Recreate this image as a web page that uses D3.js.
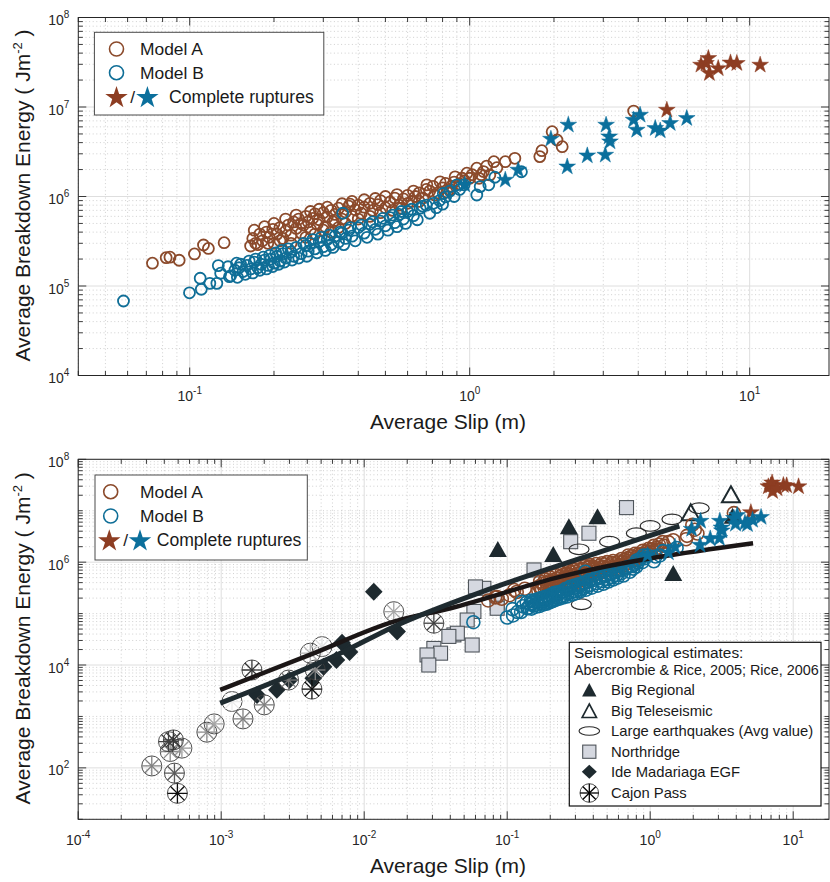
<!DOCTYPE html>
<html><head><meta charset="utf-8">
<script src="https://cdn.jsdelivr.net/npm/d3@7/dist/d3.min.js"></script>
<style>
html,body{margin:0;padding:0;background:#fff;}
svg{display:block;font-family:"Liberation Sans",Arial,Helvetica,sans-serif;}
text{white-space:pre;}
</style></head><body>
<svg id="chart" width="830" height="882"></svg>
<script>
// ================= DATA =================
// [average slip (m), average breakdown energy (J/m^2)]
const modelA = [
[0.0736,1.8e5],[0.0824,2.07e5],[0.085,2.1e5],[0.0917,1.94e5],[0.104,2.28e5],[0.112,2.87e5],[0.1166,2.63e5],[0.1327,3.05e5],
[0.165,2.8e5],[0.168,3.4e5],[0.172,3.0e5],[0.178,3.8e5],[0.182,3.2e5],[0.188,4.0e5],[0.192,3.5e5],[0.198,4.3e5],[0.2,3.0e5],[0.205,3.8e5],
[0.21,4.5e5],[0.215,3.4e5],[0.22,4.1e5],[0.225,4.8e5],[0.23,3.7e5],[0.235,5.2e5],[0.24,4.4e5],[0.245,5.6e5],[0.25,3.9e5],[0.255,4.8e5],
[0.26,6.0e5],[0.265,5.2e5],[0.27,4.3e5],[0.275,5.7e5],[0.28,6.4e5],[0.285,4.9e5],[0.29,5.5e5],[0.3,6.6e5],[0.305,4.6e5],[0.31,5.9e5],
[0.32,7.0e5],[0.325,5.2e5],[0.33,6.3e5],[0.34,7.4e5],[0.35,5.6e5],[0.36,6.7e5],[0.37,7.8e5],[0.374,8.2e5],[0.38,6.0e5],[0.39,7.1e5],
[0.4,8.0e5],[0.41,6.5e5],[0.42,7.6e5],[0.44,8.4e5],[0.45,7.0e5],[0.47,8.1e5],[0.48,9.0e5],[0.5,7.5e5],[0.52,8.7e5],[0.54,9.6e5],
[0.56,8.0e5],[0.58,9.4e5],[0.6,1.03e6],[0.62,8.8e5],[0.64,1.0e6],[0.66,1.1e6],[0.68,9.6e5],[0.703,1.35e6],[0.72,1.15e6],[0.75,1.04e6],
[0.784,1.46e6],[0.8,1.25e6],[0.83,1.12e6],[0.86,1.3e6],[0.887,1.66e6],[0.92,1.38e6],[0.96,1.5e6],[0.977,1.82e6],[1.0,1.6e6],[1.06,2.07e6],
[1.1,1.75e6],[1.15,2.19e6],[1.18,1.74e6],[1.22,2.45e6],[1.34,2.45e6],[1.45,2.67e6],[1.78,2.79e6],[1.81,3.25e6],[1.97,5.3e6],[2.05,4.28e6],
[2.14,3.6e6],[3.85,9.0e6],
[0.17,4.2e5],[0.175,2.9e5],[0.185,4.6e5],[0.19,3.0e5],[0.2,5.0e5],[0.21,3.2e5],[0.22,5.6e5],[0.23,3.0e5],[0.24,6.2e5],[0.25,5.0e5],
[0.26,3.5e5],[0.27,6.8e5],[0.28,3.8e5],[0.29,7.2e5],[0.3,4.2e5],[0.31,7.6e5],[0.32,4.0e5],[0.33,5.4e5],[0.34,4.5e5],[0.35,8.3e5],
[0.36,5.0e5],[0.38,8.8e5],[0.4,5.6e5],[0.42,9.2e5],[0.44,6.0e5],[0.46,9.5e5],[0.48,6.6e5],[0.5,1.0e6],[0.53,7.0e5],[0.55,1.05e6],
[0.57,7.4e5],[0.6,8.4e5],[0.63,1.15e6],[0.66,8.8e5],[0.7,1.2e6],[0.74,1.3e6],[0.77,1.1e6],[0.82,1.4e6],[0.85,1.2e6],[0.88,1.45e6],
[0.94,1.6e6],[1.02,1.75e6],[1.08,1.6e6],[1.12,1.9e6],[1.25,2.1e6]
];
const modelB = [
[0.058,6.8e4],[0.0998,8.4e4],[0.11,9.2e4],[0.109,1.22e5],[0.118,1.07e5],[0.125,1.07e5],[0.1265,1.69e5],[0.129,1.39e5],[0.137,1.64e5],
[0.1386,1.27e5],[0.147,1.8e5],[0.145,1.5e5],[0.15,1.6e5],[0.155,1.45e5],[0.16,1.7e5],[0.165,1.55e5],[0.17,1.85e5],[0.175,1.6e5],
[0.18,1.75e5],[0.185,1.95e5],[0.19,1.7e5],[0.195,2.0e5],[0.2,1.8e5],[0.205,2.15e5],[0.21,1.9e5],[0.215,2.3e5],[0.22,2.05e5],[0.23,2.4e5],
[0.235,2.15e5],[0.24,2.7e5],[0.25,2.3e5],[0.26,2.85e5],[0.265,2.45e5],[0.27,3.0e5],[0.28,2.6e5],[0.29,3.15e5],[0.3,2.75e5],[0.31,3.3e5],
[0.32,2.9e5],[0.33,3.6e5],[0.34,3.1e5],[0.35,3.9e5],[0.352,6.5e5],[0.36,3.4e5],[0.37,4.2e5],[0.38,3.6e5],[0.4,4.5e5],[0.42,3.9e5],
[0.44,4.9e5],[0.46,4.3e5],[0.48,5.3e5],[0.5,4.7e5],[0.52,5.8e5],[0.54,5.1e5],[0.56,6.3e5],[0.58,5.6e5],[0.6,6.8e5],[0.63,6.1e5],
[0.665,7.4e5],[0.7,8.0e5],[0.742,8.4e5],[0.76,7.5e5],[0.78,9.0e5],[0.805,1.08e6],[0.82,9.9e5],[0.85,1.15e6],[0.9,1.35e6],[0.955,1.35e6],
[1.06,1.04e6],[1.09,1.29e6],[1.17,1.35e6],[1.23,1.64e6],[1.53,1.89e6],
[0.14,1.3e5],[0.148,1.25e5],[0.152,1.75e5],[0.158,1.35e5],[0.163,1.9e5],[0.168,1.4e5],[0.172,2.0e5],[0.178,1.5e5],[0.183,2.1e5],
[0.188,1.55e5],[0.193,2.2e5],[0.198,1.65e5],[0.203,2.35e5],[0.208,1.75e5],[0.213,2.5e5],[0.218,1.85e5],[0.225,2.6e5],[0.232,1.95e5],
[0.245,2.05e5],[0.255,3.0e5],[0.262,2.15e5],[0.275,3.3e5],[0.285,2.35e5],[0.295,3.5e5],[0.305,2.5e5],[0.315,3.7e5],[0.325,2.7e5],
[0.345,4.0e5],[0.355,2.9e5],[0.375,4.5e5],[0.39,3.2e5],[0.41,4.8e5],[0.43,3.5e5],[0.45,5.2e5],[0.47,3.8e5],[0.49,5.7e5],[0.51,4.2e5],
[0.53,6.2e5],[0.55,4.6e5],[0.57,6.8e5],[0.59,5.0e5],[0.62,7.2e5],[0.65,5.5e5],[0.68,7.8e5],[0.72,6.5e5],[0.8,8.2e5],[0.88,1.0e6],[0.92,1.2e6]
];
const rupturesA = [[5.06,9.25e6],[6.7,2.95e7],[6.98,3.08e7],[7.12,3.5e7],[7.18,2.38e7],[7.72,2.7e7],[8.54,3.12e7],[9.0,3.08e7],[10.9,2.95e7]];
const rupturesB = [[0.96,1.35e6],[1.34,1.53e6],[1.49,1.98e6],[1.95,4.39e6],[2.23,2.15e6],[2.25,6.3e6],[2.63,2.86e6],[3.05,2.91e6],[3.07,6.3e6],
[3.15,4.66e6],[3.17,4.1e6],[3.85,7.16e6],[3.95,5.53e6],[4.06,8.14e6],[4.6,5.78e6],[4.79,5.43e6],[5.2,6.58e6],[5.96,7.48e6]];

// Seismological estimates (Abercrombie & Rice, 2005; Rice, 2006)
const bigRegional = [[0.086,1.73e6],[0.21,1.38e6],[0.27,4.77e6],[0.428,7.46e6],[1.45,5.9e5],[3.77,7.6e6]];
const bigTeleseismic = [[1.92,8.9e6],[3.67,2.0e7]];
const largeEarthquakes = [[0.318,1.78e6],[0.33,1.52e5],[0.52,2.5e6],[0.8,3.65e6],[1.0,5.06e6],[1.42,6.8e6],[2.2,1.12e7]];
const northridge = [[0.683,1.15e7],[0.373,3.65e6],[0.278,2.5e6],[0.154,7.05e5],[0.0687,3.1e5],[0.06,3.3e5],[0.0851,1.6e5],[0.0851,1.27e5],
[0.0585,1.1e5],[0.0525,7.5e4],[0.0424,3.85e4],[0.0448,4.15e4],[0.0391,3.6e4],[0.0569,2.45e4],[0.0307,2.1e4],[0.0342,1.7e4],[0.0275,1.57e4],[0.0283,1.0e4]];
const ideMadariaga = [[0.01167,2.67e5],[0.017,4.46e4],[0.0070,2.7e4],[0.0079,1.8e4],[0.0064,1.25e4],[0.0052,9.3e3],[0.0044,5.5e3],[0.0030,5.1e3],[0.00245,3.3e3],[0.00178,2.6e3]];
const cajonPass = [[3.27e-4,109],[4.71e-4,79],[4.94e-4,32],[4.4e-4,208],[5.31e-4,242],[4.63e-4,350],[4.28e-4,324],[7.94e-4,494],[8.93e-4,716],
[1.42e-3,896],[2.0e-3,1680],[1.19e-3,1950],[1.64e-3,8000],[2.96e-3,5100],[4.31e-3,3400],[4.55e-3,8000],[4.2e-3,1.7e4],[5.07e-3,2.28e4],[0.0307,6.5e4],[0.0161,1.09e5]];
const cajonTone = [0.5,0.65,0.95,0.45,0.4,0.8,0.75,0.45,0.35,0.5,0.5,0.08,0.8,0.55,0.95,0.5,0.3,0.12,0.75,0.35];

// fitted curves
const fitCurveF = [[9.84e-4,3.28e3],[4.42e-3,1.69e4],[0.0161,6.98e4],[0.0402,1.27e5],[0.2366,5.23e5],[5.24,2.33e6]];
const fitCurveS = [[9.84e-4,1.81e3],[6.81e-3,1.69e4],[0.0161,5.57e4],[0.0726,2.88e5],[0.2366,8.83e5],[1.125,3.65e6],[1.6,5.0e6]];

// axis ticks
const topXMajor = [0.1,1,10];
const topYMajor = [1e4,1e5,1e6,1e7,1e8];
const botXMajor = [1e-4,1e-3,1e-2,1e-1,1,10];
const botYMajor = [1e2,1e4,1e6,1e8];

// ================= DRAW =================
const svg = d3.select("#chart");
const defs = svg.append("defs");
const COL = {A:"#8b4a2b", B:"#0f6e97", starA:"#8d3d22", starB:"#0b6f9c", axis:"#262626", dark:"#1e2a2f"};
const isIn = (v, list) => list.some(m => Math.abs(Math.log10(v) - Math.log10(m)) < 1e-6);

function panel(id, box, xDomain, yDomain, xMajor, yMajor) {
  const x = d3.scaleLog().domain(xDomain).range([box.left, box.right]);
  const y = d3.scaleLog().domain(yDomain).range([box.bottom, box.top]);
  const g = svg.append("g");
  const xt = x.ticks(), yt = y.ticks();
  const xMin = xt.filter(v => !isIn(v, xMajor)), yMin = yt.filter(v => !isIn(v, yMajor));
  g.append("g").selectAll("line").data(xMin).join("line")
    .attr("x1", d => x(d)).attr("x2", d => x(d)).attr("y1", box.top).attr("y2", box.bottom)
    .attr("stroke", "#c4c4c4").attr("stroke-width", 0.8).attr("stroke-dasharray", "1,2.6");
  g.append("g").selectAll("line").data(yMin).join("line")
    .attr("y1", d => y(d)).attr("y2", d => y(d)).attr("x1", box.left).attr("x2", box.right)
    .attr("stroke", "#c4c4c4").attr("stroke-width", 0.8).attr("stroke-dasharray", "1,2.6");
  g.append("g").selectAll("line").data(xMajor).join("line")
    .attr("x1", d => x(d)).attr("x2", d => x(d)).attr("y1", box.top).attr("y2", box.bottom)
    .attr("stroke", "#dedede").attr("stroke-width", 1);
  g.append("g").selectAll("line").data(yMajor).join("line")
    .attr("y1", d => y(d)).attr("y2", d => y(d)).attr("x1", box.left).attr("x2", box.right)
    .attr("stroke", "#dedede").attr("stroke-width", 1);
  defs.append("clipPath").attr("id", "clip" + id).append("rect")
    .attr("x", box.left).attr("y", box.top).attr("width", box.right - box.left).attr("height", box.bottom - box.top);
  const data = svg.append("g").attr("clip-path", `url(#clip${id})`);
  const axes = svg.append("g");
  return {x, y, data, axes, box, xt, yt, xMajor, yMajor};
}

function finishAxes(p, xLabels, yLabels) {
  const {x, y, axes, box} = p;
  const tk = axes.append("g").attr("stroke", COL.axis).attr("stroke-width", 0.9);
  p.xt.forEach(v => {
    const L = isIn(v, p.xMajor) ? 8 : 4.5, X = x(v);
    tk.append("line").attr("x1", X).attr("x2", X).attr("y1", box.bottom).attr("y2", box.bottom - L);
    tk.append("line").attr("x1", X).attr("x2", X).attr("y1", box.top).attr("y2", box.top + L);
  });
  p.yt.forEach(v => {
    const L = isIn(v, p.yMajor) ? 8 : 4.5, Y = y(v);
    tk.append("line").attr("y1", Y).attr("y2", Y).attr("x1", box.left).attr("x2", box.left + L);
    tk.append("line").attr("y1", Y).attr("y2", Y).attr("x1", box.right).attr("x2", box.right - L);
  });
  axes.append("rect").attr("x", box.left).attr("y", box.top)
    .attr("width", box.right - box.left).attr("height", box.bottom - box.top)
    .attr("fill", "none").attr("stroke", COL.axis).attr("stroke-width", 1);
  xLabels.forEach(v => {
    const t = axes.append("text").attr("x", x(v)).attr("y", box.bottom + 25.5)
      .attr("text-anchor", "middle").attr("fill", COL.axis).attr("font-size", 14);
    t.append("tspan").text("10");
    t.append("tspan").attr("dy", -7).attr("font-size", 10).text(String(Math.round(Math.log10(v))));
  });
  yLabels.forEach(v => {
    const t = axes.append("text").attr("x", box.left - 9).attr("y", y(v) + 7.5)
      .attr("text-anchor", "end").attr("fill", COL.axis).attr("font-size", 14);
    t.append("tspan").text("10");
    t.append("tspan").attr("dy", -7).attr("font-size", 10).text(String(Math.round(Math.log10(v))));
  });
  axes.append("text").attr("x", 448).attr("y", box.bottom + 53.5).attr("text-anchor", "middle")
    .attr("font-size", 21).attr("fill", "#1a1a1a").text("Average Slip (m)");
  const cy = (box.top + box.bottom) / 2 - 1;
  const yt = axes.append("text").attr("transform", `translate(30,${cy}) rotate(-90)`)
    .attr("text-anchor", "middle").attr("font-size", 21).attr("fill", "#1a1a1a");
  yt.append("tspan").text("Average Breakdown Energy ( Jm");
  yt.append("tspan").attr("dy", -8).attr("font-size", 13).text("-2");
  yt.append("tspan").attr("dy", 8).text(" )");
}

const starPath = R => d3.symbol(d3.symbolStar, R * R / 0.8908130915292852)();
function drawCircles(g, arr, p, r, color, sw) {
  g.append("g").selectAll("circle").data(arr).join("circle")
    .attr("cx", d => p.x(d[0])).attr("cy", d => p.y(d[1])).attr("r", r)
    .attr("fill", "none").attr("stroke", color).attr("stroke-width", sw);
}
function drawStars(g, arr, p, R, color) {
  g.append("g").selectAll("path").data(arr).join("path")
    .attr("transform", d => `translate(${p.x(d[0])},${p.y(d[1])})`)
    .attr("d", starPath(R)).attr("fill", color).attr("stroke", color).attr("stroke-width", 0.5);
}
const triPath = "M0,-9L9,7L-9,7Z";
const diaPath = "M0,-9L8.8,0L0,9L-8.8,0Z";
function cajonMarker(sel, r, tone) {
  sel.append("circle").attr("r", r).attr("fill", "none").attr("stroke", "#3a3a3a").attr("stroke-width", 0.9);
  const c = d3.interpolateRgb("#ffffff", "#000000")(tone);
  [0, 45, 90, 135].forEach(a => {
    const rad = a * Math.PI / 180, dx = Math.cos(rad) * r, dy = Math.sin(rad) * r;
    sel.append("line").attr("x1", -dx).attr("y1", -dy).attr("x2", dx).attr("y2", dy)
      .attr("stroke", c).attr("stroke-width", 1.3);
  });
}

function modelLegend(lx, ly, w, h, circX, textX, rowY, starX1, slashX, starX2, ruptX) {
  const lg = svg.append("g");
  lg.append("rect").attr("x", lx).attr("y", ly).attr("width", w).attr("height", h)
    .attr("fill", "#fff").attr("stroke", "#4a4a4a").attr("stroke-width", 1);
  lg.append("circle").attr("cx", circX).attr("cy", rowY[0]).attr("r", 7).attr("fill", "none").attr("stroke", COL.A).attr("stroke-width", 1.6);
  lg.append("circle").attr("cx", circX).attr("cy", rowY[1]).attr("r", 7).attr("fill", "none").attr("stroke", COL.B).attr("stroke-width", 1.6);
  lg.append("text").attr("x", textX).attr("y", rowY[0] + 6.2).attr("font-size", 17.4).attr("fill", "#1a1a1a").text("Model A");
  lg.append("text").attr("x", textX).attr("y", rowY[1] + 6.2).attr("font-size", 17.4).attr("fill", "#1a1a1a").text("Model B");
  lg.append("path").attr("transform", `translate(${starX1},${rowY[2] + 1})`).attr("d", starPath(11.8)).attr("fill", COL.starA);
  lg.append("text").attr("x", slashX).attr("y", rowY[2] + 6.2).attr("text-anchor", "middle").attr("font-size", 17.4).attr("fill", "#1a1a1a").text("/");
  lg.append("path").attr("transform", `translate(${starX2},${rowY[2] + 1})`).attr("d", starPath(11.8)).attr("fill", COL.starB);
  lg.append("text").attr("x", ruptX).attr("y", rowY[2] + 6.2).attr("font-size", 17.6).attr("fill", "#1a1a1a").text("Complete ruptures");
}

// ---------- TOP PANEL ----------
const P1 = panel("top", {left: 78.3, right: 829, top: 17.5, bottom: 375.5}, [0.04, 19.2], [1e4, 1e8], topXMajor, topYMajor);
drawCircles(P1.data, modelA, P1, 5.5, COL.A, 1.8);
drawCircles(P1.data, modelB, P1, 5.5, COL.B, 1.8);
drawStars(P1.data, rupturesA, P1, 8.8, COL.starA);
drawStars(P1.data, rupturesB, P1, 8.8, COL.starB);
finishAxes(P1, topXMajor, topYMajor);
modelLegend(94.4, 32.3, 229.4, 82.7, 116.5, 140, [49, 72.7, 96.7], 116.5, 132.7, 147.4, 169);

// ---------- BOTTOM PANEL ----------
const P2 = panel("bot", {left: 78.2, right: 829, top: 459.3, bottom: 819.3}, [1e-4, 17.8], [10, 1e8], botXMajor, botYMajor);
const D = P2.data;
D.append("g").selectAll("rect").data(northridge).join("rect")
  .attr("x", d => P2.x(d[0]) - 7).attr("y", d => P2.y(d[1]) - 7).attr("width", 14).attr("height", 14)
  .attr("fill", "#d5d8e0").attr("stroke", "#4f555b").attr("stroke-width", 1.1);
D.append("g").selectAll("ellipse").data(largeEarthquakes).join("ellipse")
  .attr("cx", d => P2.x(d[0])).attr("cy", d => P2.y(d[1])).attr("rx", 10).attr("ry", 5.3)
  .attr("fill", "none").attr("stroke", "#2b2b2b").attr("stroke-width", 1.2);
D.append("g").selectAll("path").data(bigRegional).join("path")
  .attr("transform", d => `translate(${P2.x(d[0])},${P2.y(d[1])})`).attr("d", triPath).attr("fill", COL.dark);
D.append("g").selectAll("path").data(bigTeleseismic).join("path")
  .attr("transform", d => `translate(${P2.x(d[0])},${P2.y(d[1])})`).attr("d", triPath)
  .attr("fill", "none").attr("stroke", COL.dark).attr("stroke-width", 2);
D.append("g").selectAll("path").data(ideMadariaga).join("path")
  .attr("transform", d => `translate(${P2.x(d[0])},${P2.y(d[1])})`).attr("d", diaPath).attr("fill", COL.dark);
D.append("g").selectAll("g").data(cajonPass).join("g")
  .attr("transform", d => `translate(${P2.x(d[0])},${P2.y(d[1])})`)
  .each(function(d, i) { cajonMarker(d3.select(this), 10, cajonTone[i]); });
drawCircles(D, modelA, P2, 6.5, COL.A, 1.6);
drawCircles(D, modelB, P2, 6.5, COL.B, 1.6);
const line = d3.line().x(d => P2.x(d[0])).y(d => P2.y(d[1])).curve(d3.curveMonotoneX);
D.append("path").datum(fitCurveF).attr("d", line).attr("fill", "none").attr("stroke", "#1b1616").attr("stroke-width", 4.5);
D.append("path").datum(fitCurveS).attr("d", line).attr("fill", "none").attr("stroke", "#1f2b30").attr("stroke-width", 5);
drawStars(D, rupturesA, P2, 8.8, COL.starA);
drawStars(D, rupturesB, P2, 8.8, COL.starB);
finishAxes(P2, botXMajor, botYMajor);
modelLegend(95, 475, 212.3, 85, 110.7, 140, [491.7, 516, 540], 109.3, 125.7, 140, 156.7);

// seismological legend
const SL = svg.append("g");
SL.append("rect").attr("x", 569.3).attr("y", 642.3).attr("width", 251.7).attr("height", 163.7)
  .attr("fill", "#fff").attr("stroke", "#111").attr("stroke-width", 1.2);
SL.append("text").attr("x", 574).attr("y", 658).attr("font-size", 15.4).attr("fill", "#1a1a1a").text("Seismological estimates:");
SL.append("text").attr("x", 574).attr("y", 675).attr("font-size", 14.4).attr("fill", "#1a1a1a").text("Abercrombie & Rice, 2005; Rice, 2006");
const entries = ["Big Regional", "Big Teleseismic", "Large earthquakes (Avg value)", "Northridge", "Ide Madariaga EGF", "Cajon Pass"];
const ey = [690, 711, 731, 751.7, 771.7, 793];
entries.forEach((t, i) => {
  SL.append("text").attr("x", 611).attr("y", ey[i] + 5.3).attr("font-size", 14.8).attr("fill", "#1a1a1a").text(t);
});
const mx = 589.3;
SL.append("path").attr("transform", `translate(${mx},${ey[0] + 0.5})`).attr("d", "M0,-7.5L7.2,6L-7.2,6Z").attr("fill", COL.dark);
SL.append("path").attr("transform", `translate(${mx},${ey[1] + 0.5})`).attr("d", "M0,-7.5L7.2,6L-7.2,6Z").attr("fill", "none").attr("stroke", COL.dark).attr("stroke-width", 1.6);
SL.append("ellipse").attr("cx", mx).attr("cy", ey[2]).attr("rx", 10.3).attr("ry", 4.2).attr("fill", "none").attr("stroke", "#2b2b2b").attr("stroke-width", 1.1);
SL.append("rect").attr("x", mx - 6.6).attr("y", ey[3] - 6.6).attr("width", 13.2).attr("height", 13.2).attr("fill", "#d5d8e0").attr("stroke", "#4f555b").attr("stroke-width", 1.1);
SL.append("path").attr("transform", `translate(${mx},${ey[4]})`).attr("d", "M0,-7L7.5,0L0,7L-7.5,0Z").attr("fill", COL.dark);
cajonMarker(SL.append("g").attr("transform", `translate(${mx},${ey[5]})`), 9.3, 1);
</script>
</body></html>
